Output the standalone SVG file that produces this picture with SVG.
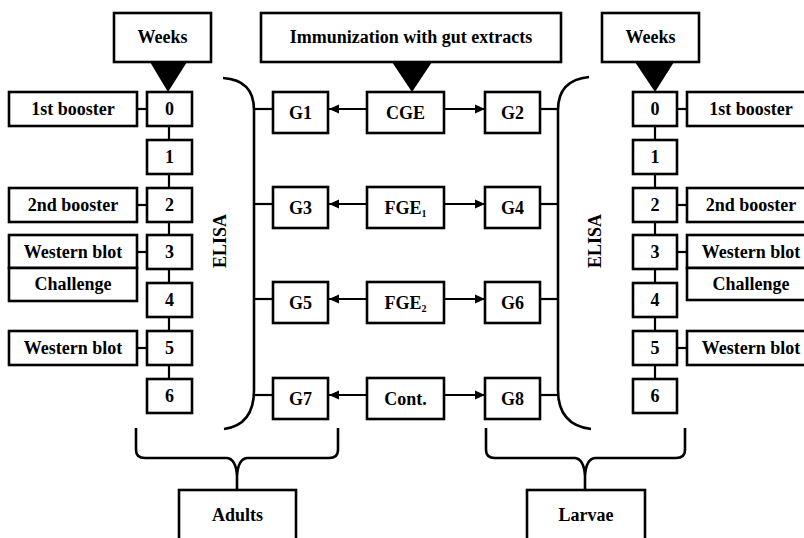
<svg xmlns="http://www.w3.org/2000/svg" width="804" height="538" viewBox="0 0 804 538">
<style>
.b{fill:#fff;stroke:#000;stroke-width:2.6}
.t{font-family:"Liberation Serif","Times New Roman",serif;font-size:18px;font-weight:bold;text-anchor:middle;fill:#000}
.l{stroke:#000;stroke-width:2.2;fill:none}
.br{stroke:#000;stroke-width:2.6;fill:none}
.tri{fill:#000}
.sub{font-size:10px}
</style>
<defs>
<marker id="ah" markerUnits="userSpaceOnUse" markerWidth="10" markerHeight="10" viewBox="0 0 10 10" refX="10" refY="5" orient="auto">
<path d="M0,0.5 L10,5 L0,9.5 Z" fill="#000"/>
</marker>
</defs>

<g id="connectors">
<line class="l" x1="169" y1="126" x2="169" y2="379"/>
<line class="l" x1="137" y1="109" x2="147" y2="109"/>
<line class="l" x1="137" y1="205" x2="147" y2="205"/>
<line class="l" x1="137" y1="252" x2="147" y2="252"/>
<line class="l" x1="137" y1="348" x2="147" y2="348"/>
<line class="l" x1="655" y1="126" x2="655" y2="379"/>
<line class="l" x1="677" y1="109" x2="687" y2="109"/>
<line class="l" x1="677" y1="205" x2="687" y2="205"/>
<line class="l" x1="677" y1="252" x2="687" y2="252"/>
<line class="l" x1="677" y1="348" x2="687" y2="348"/>
<polygon class="tri" points="150,62 187,62 168,92"/>
<polygon class="tri" points="392,62 432,62 412,92"/>
<polygon class="tri" points="635,62 674,62 655,92"/>
<path class="br" d="M223,78 Q254,80 254,110 L254,390 Q254,425 224,429"/>
<path class="br" d="M589,77 Q558,80 558,110 L558,390 Q558,425 591,429"/>
<line class="l" x1="254" y1="109" x2="273" y2="109"/>
<line class="l" x1="254" y1="204" x2="273" y2="204"/>
<line class="l" x1="254" y1="299" x2="273" y2="299"/>
<line class="l" x1="254" y1="395" x2="273" y2="395"/>
<line class="l" x1="540" y1="109" x2="558" y2="109"/>
<line class="l" x1="540" y1="204" x2="558" y2="204"/>
<line class="l" x1="540" y1="299" x2="558" y2="299"/>
<line class="l" x1="540" y1="395" x2="558" y2="395"/>
<line class="l" x1="367" y1="109" x2="329" y2="109" marker-end="url(#ah)"/>
<line class="l" x1="444" y1="109" x2="485" y2="109" marker-end="url(#ah)"/>
<line class="l" x1="367" y1="204" x2="329" y2="204" marker-end="url(#ah)"/>
<line class="l" x1="444" y1="204" x2="485" y2="204" marker-end="url(#ah)"/>
<line class="l" x1="367" y1="299" x2="329" y2="299" marker-end="url(#ah)"/>
<line class="l" x1="444" y1="299" x2="485" y2="299" marker-end="url(#ah)"/>
<line class="l" x1="367" y1="395" x2="329" y2="395" marker-end="url(#ah)"/>
<line class="l" x1="444" y1="395" x2="485" y2="395" marker-end="url(#ah)"/>
<path class="br" d="M136,428 L136,450 Q136,458 145,458 L227,458 Q236,459 237,476 L237,490 M338,428 L338,450 Q338,458 329,458 L247,458 Q238,459 237,476"/>
<path class="br" d="M486,428 L486,450 Q486,458 495,458 L575,458 Q584,459 585,476 L585,490 M685,428 L685,450 Q685,458 676,458 L595,458 Q586,459 585,476"/>
</g>

<g id="weeks-left"><rect class="b" x="114" y="13" width="97" height="49"/><text class="t" x="162.5" y="43">Weeks</text></g>
<g id="immunization"><rect class="b" x="261" y="13" width="300" height="49"/><text class="t" x="411" y="43">Immunization with gut extracts</text></g>
<g id="weeks-right"><rect class="b" x="602" y="13" width="97" height="49"/><text class="t" x="650.5" y="43">Weeks</text></g>

<g id="lw0"><rect class="b" x="147" y="92" width="45" height="34"/><text class="t" x="169.5" y="115">0</text></g>
<g id="lw1"><rect class="b" x="147" y="140" width="45" height="34"/><text class="t" x="169.5" y="163">1</text></g>
<g id="lw2"><rect class="b" x="147" y="188" width="45" height="34"/><text class="t" x="169.5" y="211">2</text></g>
<g id="lw3"><rect class="b" x="147" y="235" width="45" height="34"/><text class="t" x="169.5" y="258">3</text></g>
<g id="lw4"><rect class="b" x="147" y="283" width="45" height="34"/><text class="t" x="169.5" y="306">4</text></g>
<g id="lw5"><rect class="b" x="147" y="331" width="45" height="34"/><text class="t" x="169.5" y="354">5</text></g>
<g id="lw6"><rect class="b" x="147" y="379" width="45" height="34"/><text class="t" x="169.5" y="402">6</text></g>

<g id="l-booster1"><rect class="b" x="9" y="92" width="128" height="34"/><text class="t" x="73" y="115">1st booster</text></g>
<g id="l-booster2"><rect class="b" x="9" y="188" width="128" height="34"/><text class="t" x="73" y="211">2nd booster</text></g>
<g id="l-wb1"><rect class="b" x="9" y="235" width="128" height="33"/><text class="t" x="73" y="258">Western blot</text></g>
<g id="l-challenge"><rect class="b" x="9" y="268" width="128" height="33"/><text class="t" x="73" y="290">Challenge</text></g>
<g id="l-wb2"><rect class="b" x="9" y="331" width="128" height="34"/><text class="t" x="73" y="354">Western blot</text></g>

<g id="rw0"><rect class="b" x="633" y="92" width="44" height="34"/><text class="t" x="655" y="115">0</text></g>
<g id="rw1"><rect class="b" x="633" y="140" width="44" height="34"/><text class="t" x="655" y="163">1</text></g>
<g id="rw2"><rect class="b" x="633" y="188" width="44" height="34"/><text class="t" x="655" y="211">2</text></g>
<g id="rw3"><rect class="b" x="633" y="235" width="44" height="34"/><text class="t" x="655" y="258">3</text></g>
<g id="rw4"><rect class="b" x="633" y="283" width="44" height="34"/><text class="t" x="655" y="306">4</text></g>
<g id="rw5"><rect class="b" x="633" y="331" width="44" height="34"/><text class="t" x="655" y="354">5</text></g>
<g id="rw6"><rect class="b" x="633" y="379" width="44" height="34"/><text class="t" x="655" y="402">6</text></g>

<g id="r-booster1"><rect class="b" x="687" y="92" width="128" height="34"/><text class="t" x="751" y="115">1st booster</text></g>
<g id="r-booster2"><rect class="b" x="687" y="188" width="128" height="34"/><text class="t" x="751" y="211">2nd booster</text></g>
<g id="r-wb1"><rect class="b" x="687" y="235" width="128" height="33"/><text class="t" x="751" y="258">Western blot</text></g>
<g id="r-challenge"><rect class="b" x="687" y="268" width="128" height="32"/><text class="t" x="751" y="290">Challenge</text></g>
<g id="r-wb2"><rect class="b" x="687" y="331" width="128" height="34"/><text class="t" x="751" y="354">Western blot</text></g>

<g id="elisa-left"><text class="t" transform="translate(226,241) rotate(-90)">ELISA</text></g>
<g id="elisa-right"><text class="t" transform="translate(601,241) rotate(-90)">ELISA</text></g>

<g id="G1"><rect class="b" x="273" y="92" width="55" height="41"/><text class="t" x="300.5" y="119">G1</text></g>
<g id="CGE"><rect class="b" x="367" y="92" width="77" height="41"/><text class="t" x="405.5" y="119">CGE</text></g>
<g id="G2"><rect class="b" x="485" y="92" width="55" height="41"/><text class="t" x="512.5" y="119">G2</text></g>
<g id="G3"><rect class="b" x="273" y="187" width="55" height="41"/><text class="t" x="300.5" y="214">G3</text></g>
<g id="FGE1"><rect class="b" x="367" y="187" width="77" height="41"/><text class="t" x="405.5" y="214">FGE<tspan class="sub" dy="3">1</tspan></text></g>
<g id="G4"><rect class="b" x="485" y="187" width="55" height="41"/><text class="t" x="512.5" y="214">G4</text></g>
<g id="G5"><rect class="b" x="273" y="282" width="55" height="41"/><text class="t" x="300.5" y="309">G5</text></g>
<g id="FGE2"><rect class="b" x="367" y="282" width="77" height="41"/><text class="t" x="405.5" y="309">FGE<tspan class="sub" dy="3">2</tspan></text></g>
<g id="G6"><rect class="b" x="485" y="282" width="55" height="41"/><text class="t" x="512.5" y="309">G6</text></g>
<g id="G7"><rect class="b" x="273" y="378" width="55" height="41"/><text class="t" x="300.5" y="405">G7</text></g>
<g id="Cont"><rect class="b" x="367" y="378" width="77" height="41"/><text class="t" x="405.5" y="405">Cont.</text></g>
<g id="G8"><rect class="b" x="485" y="378" width="55" height="41"/><text class="t" x="512.5" y="405">G8</text></g>

<g id="adults"><rect class="b" x="179" y="490" width="117" height="60"/><text class="t" x="237.5" y="521">Adults</text></g>
<g id="larvae"><rect class="b" x="527" y="490" width="118" height="60"/><text class="t" x="586" y="521">Larvae</text></g>
</svg>
